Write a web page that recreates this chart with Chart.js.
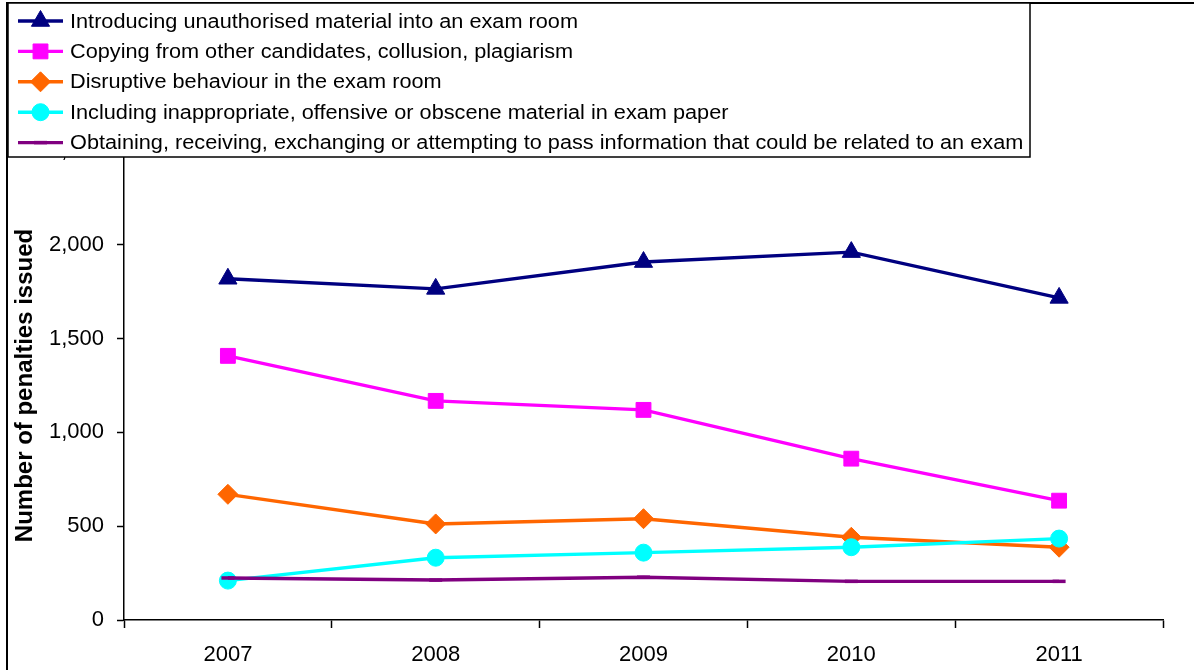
<!DOCTYPE html>
<html>
<head>
<meta charset="utf-8">
<script src="https://cdn.jsdelivr.net/npm/chart.js@4/dist/chart.umd.min.js"></script>
<style>
  html, body { margin: 0; padding: 0; background: #fff; }
  #wrap { width: 1194px; height: 670px; }
</style>
</head>
<body>
<div id="wrap"><canvas id="penalties"></canvas></div>
<script>
const years = ['2007', '2008', '2009', '2010', '2011'];

const seriesNames = [
  'Introducing unauthorised material into an exam room',
  'Copying from other candidates, collusion, plagiarism',
  'Disruptive behaviour in the exam room',
  'Including inappropriate, offensive or obscene material in exam paper',
  'Obtaining, receiving, exchanging or attempting to pass information that could be related to an exam'
];

const unauthorisedMaterial = [1819, 1765, 1908, 1961, 1717];
const copying = [1408, 1168, 1120, 860, 636];
const disruptive = [670, 512, 540, 441, 388];
const inappropriate = [210, 332, 359, 388, 434];
const obtainingInfo = [224, 213, 228, 206, 206];

const yTicks = [0, 500, 1000, 1500, 2000, 2500];

const colours = ['#000080', '#FF00FF', '#FF6600', '#00FFFF', '#800080'];
const markers = ['triangle', 'rect', 'rectRot', 'circle', 'line'];
const markerSizes = [10.5, 10.5, 10, 8.5, 6.5];
const seriesValues = [unauthorisedMaterial, copying, disruptive, inappropriate, obtainingInfo];

const FONT = 'Arial, "Liberation Sans", sans-serif';

const datasets = seriesValues.map(function (vals, i) {
  return {
    label: seriesNames[i],
    data: vals,
    borderColor: colours[i],
    backgroundColor: colours[i],
    pointBackgroundColor: colours[i],
    pointBorderColor: colours[i],
    pointStyle: markers[i],
    pointRadius: markerSizes[i],
    pointBorderWidth: markers[i] == 'line' ? 3.5 : 1,
    borderWidth: 3.4,
    tension: 0,
    order: 4 - i
  };
});

// frame round the chart plus the boxed legend that sits over the top of the plot
const frameAndLegend = {
  id: 'frameAndLegend',
  afterDraw(chart) {
    const ctx = chart.ctx;
    ctx.save();
    ctx.strokeStyle = '#000';
    ctx.lineWidth = 2;
    ctx.beginPath();
    ctx.moveTo(7, 670);
    ctx.lineTo(7, 3);
    ctx.lineTo(1194, 3);
    ctx.stroke();

    // legend box
    ctx.fillStyle = '#fff';
    ctx.fillRect(8, 3, 1022, 154);
    ctx.lineWidth = 1.5;
    ctx.strokeRect(8, 3, 1022, 154);

    ctx.font = '20px ' + FONT;
    ctx.textBaseline = 'middle';
    ctx.textAlign = 'left';
    // the original text runs a little wider than Arial does
    const stretch = 508 / ctx.measureText(chart.data.datasets[0].label).width;
    chart.data.datasets.forEach(function (ds, i) {
      const y = 21 + i * 30.4;
      ctx.strokeStyle = ds.borderColor;
      ctx.lineWidth = 3.4;
      ctx.beginPath();
      ctx.moveTo(18, y);
      ctx.lineTo(63, y);
      ctx.stroke();
      ctx.fillStyle = ds.pointBackgroundColor;
      ctx.strokeStyle = ds.pointBorderColor;
      ctx.lineWidth = ds.pointBorderWidth;
      Chart.helpers.drawPoint(ctx, {
        pointStyle: ds.pointStyle,
        radius: ds.pointRadius,
        rotation: 0,
        borderWidth: ds.pointBorderWidth
      }, 40.5, y);
      ctx.fillStyle = '#000';
      ctx.save();
      ctx.translate(70, y + 1);
      ctx.scale(stretch, 1);
      ctx.fillText(ds.label, 0, 0);
      ctx.restore();
    });
    ctx.restore();
  }
};

const config = {
  type: 'line',
  data: { labels: years, datasets: datasets },
  options: {
    responsive: true,
    maintainAspectRatio: false,
    animation: false,
    layout: { padding: { left: 8, top: 151, right: 31, bottom: 0 } },
    plugins: {
      legend: { display: false },
      tooltip: { enabled: false }
    },
    scales: {
      x: {
        offset: true,
        grid: {
          offset: true,
          drawOnChartArea: false,
          drawTicks: true,
          tickLength: 8,
          tickColor: '#000',
          tickWidth: 1.5
        },
        border: { color: '#000', width: 1.5 },
        ticks: {
          color: '#000',
          font: { family: FONT, size: 22 },
          padding: 14,
          maxRotation: 0
        },
        afterFit(scale) { scale.height = 50; }
      },
      y: {
        min: 0,
        max: 2500,
        afterBuildTicks(scale) { scale.ticks = yTicks.map(v => ({ value: v })); },
        grid: {
          drawOnChartArea: false,
          drawTicks: true,
          tickLength: 7,
          tickColor: '#000',
          tickWidth: 1.5
        },
        border: { color: '#000', width: 1.5 },
        ticks: {
          color: '#000',
          font: { family: FONT, size: 22 },
          padding: 13,
          callback: v => v.toLocaleString('en-US')
        },
        title: {
          display: true,
          text: 'Number of penalties issued',
          color: '#000',
          font: { family: FONT, size: 24, weight: 'bold' },
          padding: { top: 3, bottom: 0 }
        },
        afterFit(scale) { scale.width = 116; }
      }
    }
  },
  plugins: [frameAndLegend]
};

const penaltiesChart = new Chart(document.getElementById('penalties'), config);
</script>
</body>
</html>
